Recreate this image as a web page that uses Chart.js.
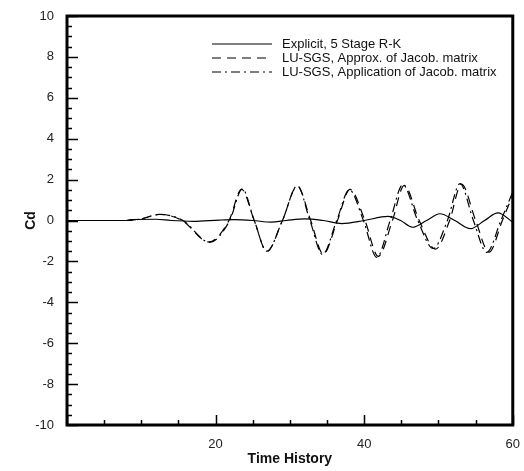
<!DOCTYPE html>
<html>
<head>
<meta charset="utf-8">
<script src="https://cdn.jsdelivr.net/npm/chart.js@4.4.1/dist/chart.umd.min.js"></script>
<style>
  body { margin: 0; background: #fff; }
  canvas { display: block; }
</style>
</head>
<body>
<canvas id="graficoCd" width="524" height="471"></canvas>
<script>
// Explicit, 5 Stage R-K
const explicitTime = [0, 8, 8.6, 12, 14, 17, 20.5, 22.5, 25, 27.5, 29.5, 32, 34.5, 37, 40, 43.2, 44.9, 46.5, 48.4, 50.2, 52.2, 54.3, 56.2, 58, 60];
const explicitCd   = [0, 0, 0.05, 0.06, 0, -0.04, 0.02, 0.04, 0, -0.08, 0, 0.08, 0, -0.15, 0, 0.2, 0, -0.33, 0, 0.33, 0, -0.4, 0, 0.37, -0.08];

// LU-SGS, Approx. of Jacob. matrix
const approxTime = [0, 8, 10, 12.5, 15.5, 19.1, 21.8, 23.5, 25.2, 26.9, 29, 31, 32.8, 34.5, 36.4, 38.1, 40.1, 41.9, 43.8, 45.4, 47.4, 49.6, 51.5, 53.1, 55, 56.8, 58.6, 60];
const approxCd   = [0, 0, 0.08, 0.3, 0, -1.05, 0, 1.52, 0, -1.52, 0, 1.68, 0, -1.64, 0, 1.52, 0, -1.75, 0, 1.72, 0, -1.4, 0, 1.78, 0, -1.55, 0, 1.25];

// LU-SGS, Application of Jacob. matrix
const appTime = [0, 8, 10, 12.5, 15.6, 19.2, 21.9, 23.6, 25.2, 26.9, 29, 31, 32.7, 34.4, 36.3, 38, 39.9, 41.7, 43.5, 45.2, 47.2, 49.3, 51.2, 52.9, 54.7, 56.5, 58.4, 60];
const appCd   = [0, 0, 0.08, 0.3, 0, -1.07, 0, 1.55, 0, -1.5, 0, 1.7, 0, -1.66, 0, 1.5, 0, -1.8, 0, 1.75, 0, -1.37, 0, 1.8, 0, -1.56, 0, 1.4];

const seriesLabels = ["Explicit, 5 Stage R-K", "LU-SGS, Approx. of Jacob. matrix", "LU-SGS, Application of Jacob. matrix"];
const seriesDash = [[], [9, 6], [9, 4, 2, 4]];

const xMin = 0, xMax = 60, xStep = 20, xMinorStep = 5;
const yMin = -10, yMax = 10, yStep = 2, yMinorStep = 0.5;

const fuente = 'Arial, "Liberation Sans", sans-serif';

function puntos(ts, vs) {
    return ts.map((t, i) => ({x: t, y: vs[i]}));
}

// Marco, marcas de eje hacia dentro y leyenda
const marcoPlugin = {
    id: 'marco',
    afterDatasetsDraw(chart) {
        const {ctx, chartArea: a, scales: {x, y}} = chart;
        ctx.save();
        ctx.strokeStyle = '#000';
        ctx.lineWidth = 1.5;
        ctx.beginPath();
        for (let v = yMin; v <= yMax + 1e-9; v += yMinorStep) {
            const py = Math.round(y.getPixelForValue(v)) + 0.5;
            const len = Math.abs(v % yStep) < 1e-9 ? 11 : 5;
            ctx.moveTo(a.left, py);
            ctx.lineTo(a.left + len, py);
        }
        for (let v = xMin; v <= xMax + 1e-9; v += xMinorStep) {
            const px = Math.round(x.getPixelForValue(v)) + 0.5;
            const len = Math.abs(v % xStep) < 1e-9 ? 10 : 5;
            ctx.moveTo(px, a.bottom);
            ctx.lineTo(px, a.bottom - len);
        }
        ctx.stroke();

        ctx.lineWidth = 3;
        ctx.strokeRect(a.left, a.top, a.right - a.left, a.bottom - a.top);

        // leyenda
        const lx = a.left + 145, tx = a.left + 215;
        ctx.font = '13px ' + fuente;
        ctx.fillStyle = '#111';
        ctx.textBaseline = 'middle';
        chart.data.datasets.forEach((ds, i) => {
            const ly = a.top + 28 + i * 14;
            ctx.lineWidth = 1.2;
            ctx.setLineDash(ds.borderDash || []);
            ctx.beginPath();
            ctx.moveTo(lx, ly);
            ctx.lineTo(lx + 60, ly);
            ctx.stroke();
            ctx.setLineDash([]);
            ctx.fillText(ds.label, tx, ly);
        });
        ctx.restore();
    }
};

const ctx = document.getElementById('graficoCd').getContext('2d');
const graficoCd = new Chart(ctx, {
    type: 'line',
    data: {
        datasets: [
            {label: seriesLabels[0], data: puntos(explicitTime, explicitCd), borderDash: seriesDash[0]},
            {label: seriesLabels[1], data: puntos(approxTime, approxCd), borderDash: seriesDash[1]},
            {label: seriesLabels[2], data: puntos(appTime, appCd), borderDash: seriesDash[2]}
        ].map(d => Object.assign(d, {
            borderColor: '#000',
            borderWidth: 1.2,
            pointRadius: 0,
            fill: false,
            cubicInterpolationMode: 'monotone'
        }))
    },
    options: {
        responsive: false,
        animation: false,
        layout: {padding: {top: 16, right: 11, left: 0, bottom: 0}},
        plugins: {legend: {display: false}, tooltip: {enabled: false}},
        scales: {
            x: {
                type: 'linear',
                min: xMin, max: xMax,
                grid: {display: false},
                border: {display: false},
                ticks: {
                    stepSize: xStep,
                    padding: 4,
                    color: '#222',
                    font: {family: fuente, size: 13},
                    callback: v => v === 0 ? '' : v
                },
                title: {display: true, text: 'Time History', color: '#111',
                        font: {family: fuente, size: 14, weight: 'bold'}, padding: {top: 0, bottom: 3}},
                afterFit: s => { s.height = 46; }
            },
            y: {
                min: yMin, max: yMax,
                grid: {display: false},
                border: {display: false},
                ticks: {stepSize: yStep, padding: 5, color: '#222', font: {family: fuente, size: 13}},
                title: {display: true, text: 'Cd', color: '#111',
                        font: {family: fuente, size: 14, weight: 'bold'}, padding: {top: 23, bottom: 0}},
                afterFit: s => { s.width = 67; }
            }
        }
    },
    plugins: [marcoPlugin]
});
</script>
</body>
</html>
